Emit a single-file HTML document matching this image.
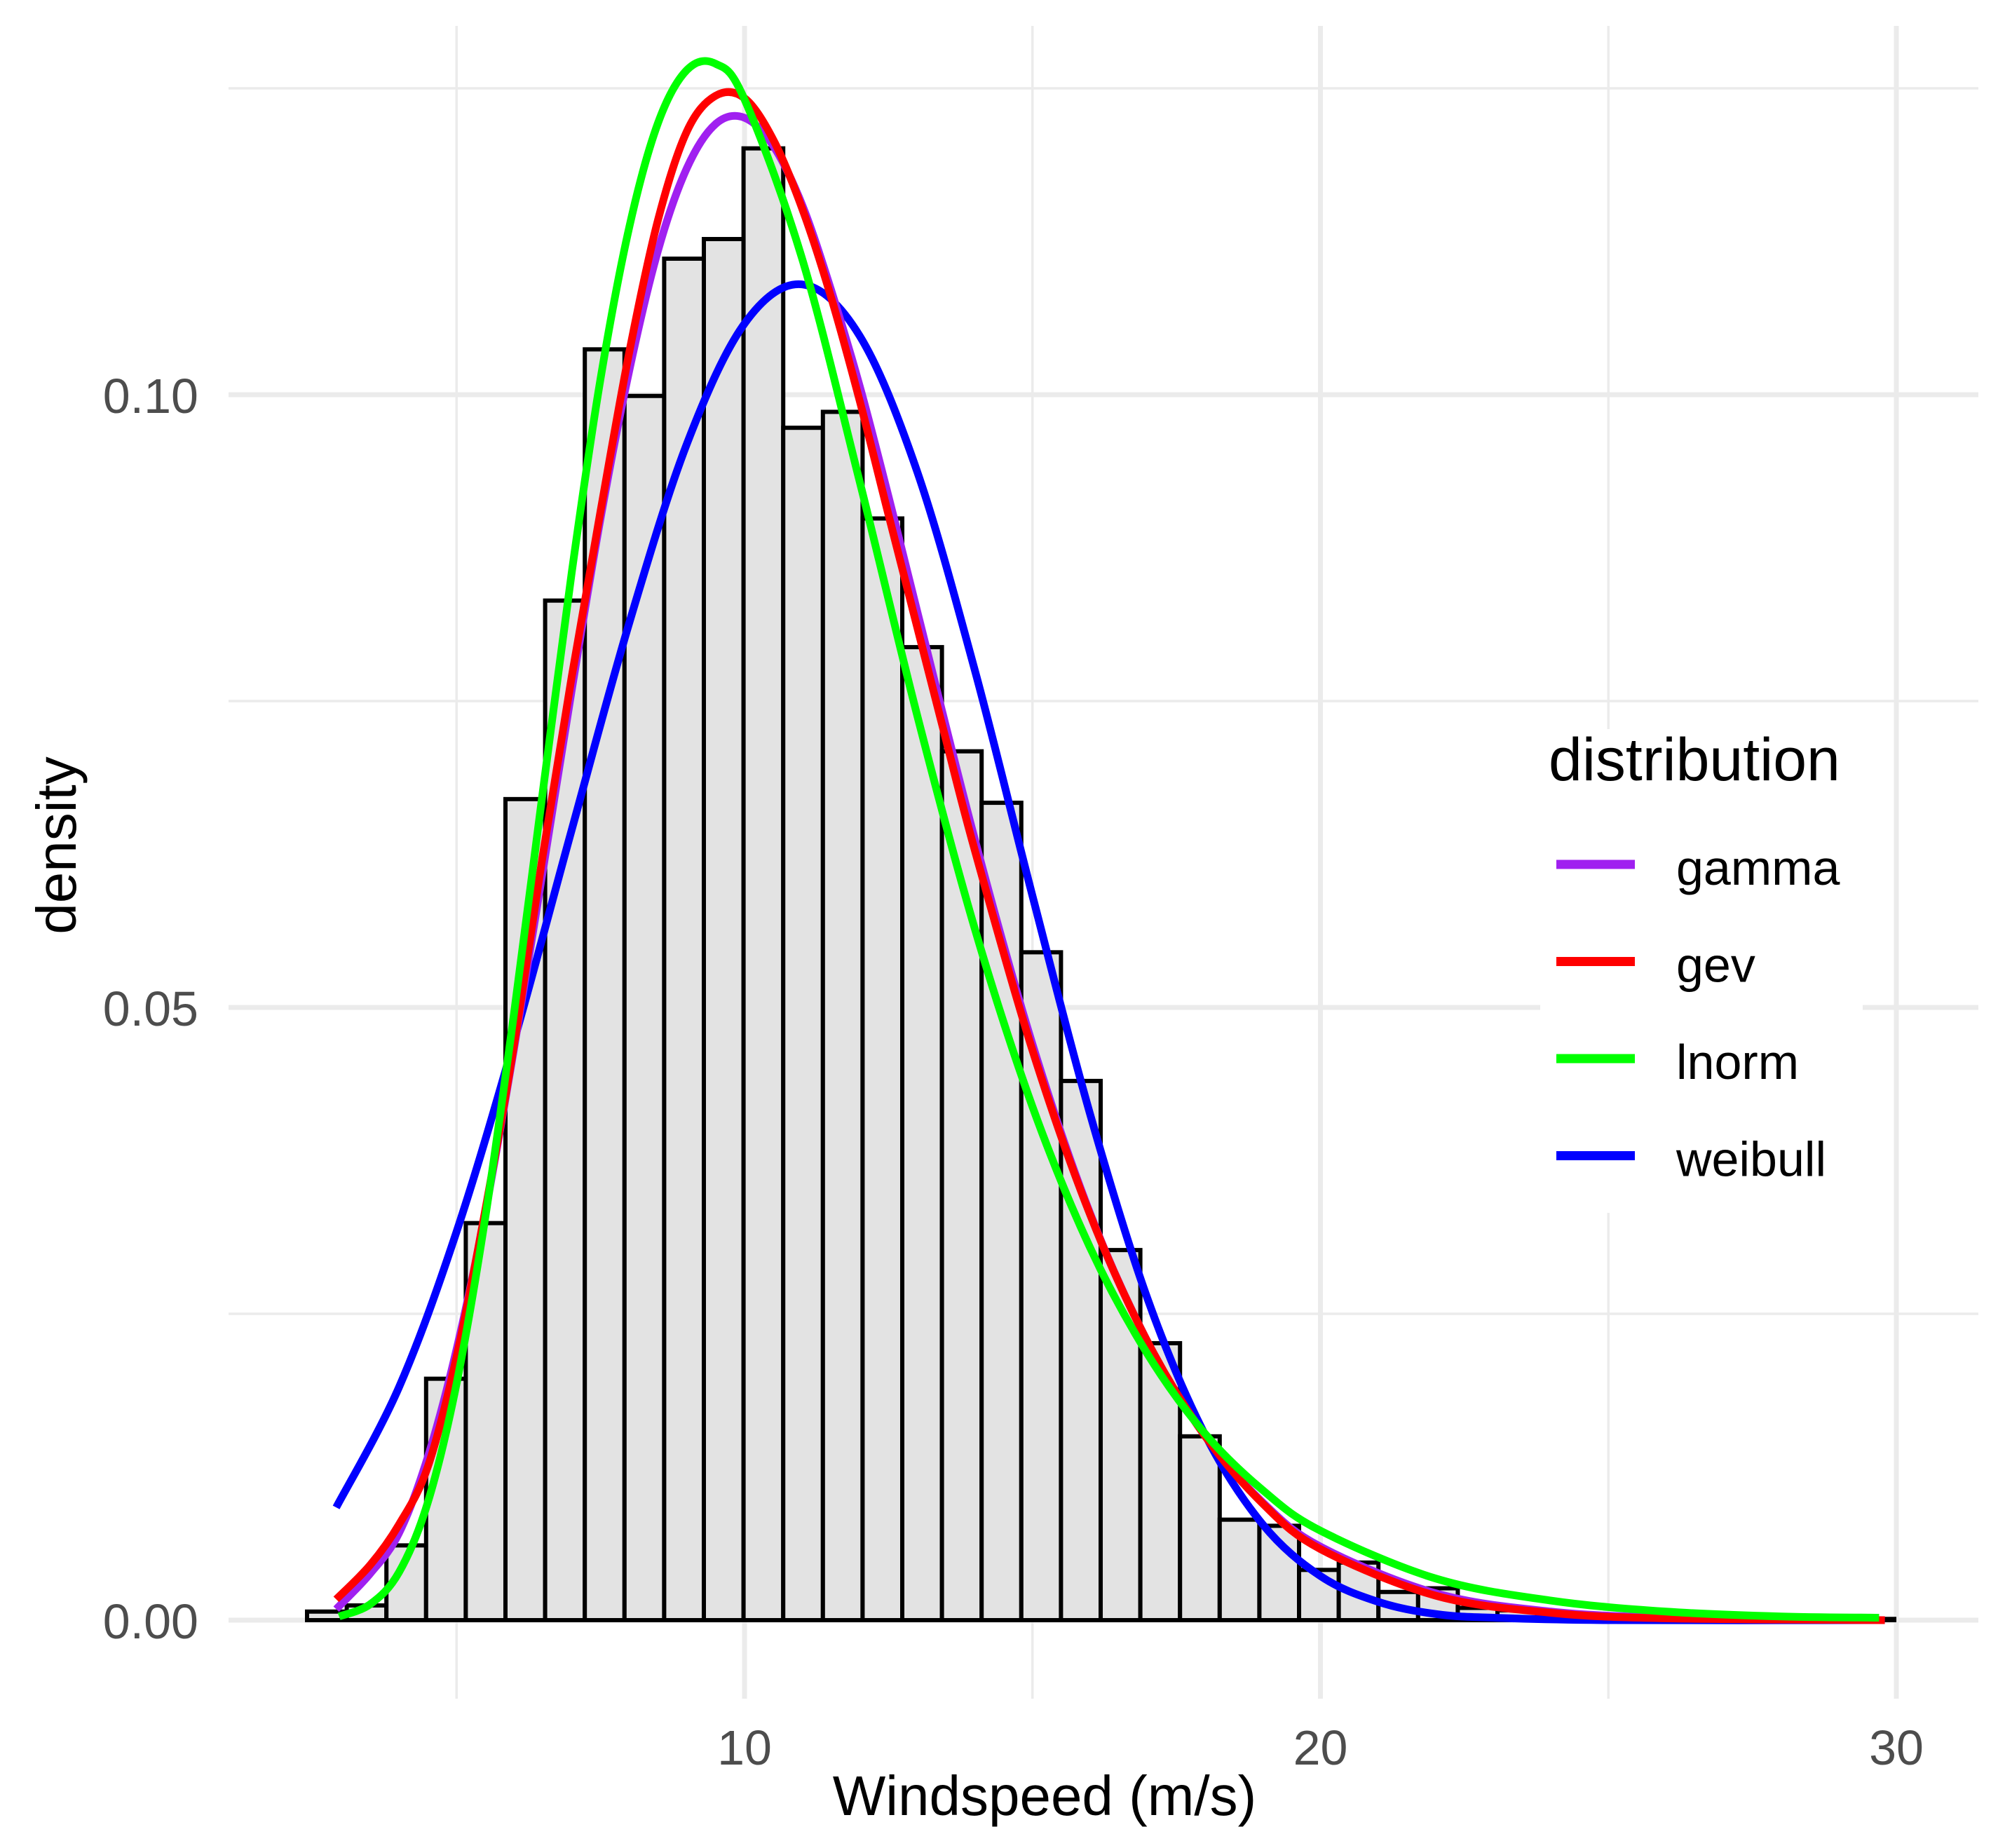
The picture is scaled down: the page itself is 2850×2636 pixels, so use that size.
<!DOCTYPE html>
<html><head><meta charset="utf-8"><style>
html,body{margin:0;padding:0;background:#fff;}
svg{display:block;font-family:"Liberation Sans",Arial,sans-serif;}
</style></head><body>
<svg id="chart" width="2850" height="2636" viewBox="0 0 2850 2636" xmlns="http://www.w3.org/2000/svg">
<rect x="0" y="0" width="2850" height="2636" fill="#fff"/>
<g id="grid"></g>
<g id="bars"></g>
<g id="curves"></g>
<g id="yticks"></g>
<g id="xticks"></g>
<text x="1490" y="2589" font-size="80" text-anchor="middle" fill="#000">Windspeed (m/s)</text>
<text transform="translate(108,1206) rotate(-90)" font-size="80" text-anchor="middle" fill="#000">density</text>
<g id="legend">
<rect x="2197" y="1040" width="460" height="690" fill="#fff"/>
<text x="2209" y="1113" font-size="86" fill="#000">distribution</text>
</g>
</svg>
<script>
const binStart = 2.404;
const binWidth = 0.689;
const barDensity = [0.0007,0.0012,0.0061,0.0197,0.0324,0.067,0.0832,0.1037,0.0999,0.1111,0.1127,0.1201,0.0973,0.0986,0.0899,0.0794,0.0709,0.0667,0.0545,0.044,0.0302,0.0226,0.015,0.0082,0.0077,0.0041,0.0047,0.0023,0.0026,0.001,0.0008,0.0005,0.0003,0.0002,0.0001,0,0.0001,0,0,0.0001];
const seriesNames = ["gamma","gev","lnorm","weibull"];
const seriesColors = ["#a020f0","#ff0000","#00ff00","#0000ff"];
const gammaX = [2.91,3.5,4,4.5,5,5.5,6,6.5,7,7.5,8,8.5,9,9.5,10,10.5,11,11.5,12,12.5,13,14,15,16,17,18,19,20,22,24,26,28,29.8];
const gammaY = [0.0009,0.0038,0.0071,0.0133,0.0221,0.0333,0.0467,0.0612,0.0759,0.0899,0.102,0.1118,0.1185,0.1221,0.1226,0.1203,0.1155,0.1086,0.1007,0.0917,0.0823,0.0637,0.047,0.0332,0.0227,0.015,0.0096,0.006,0.0022,0.0007,0.0002,0.0001,0.0];
const gevX = [2.91,3.5,4,4.5,5,5.5,6,6.5,7,7.5,8,8.5,9,9.5,10,10.5,11,11.5,12,12.5,13,13.5,14,15,16,17,18,19,20,22,24,26,29.8];
const gevY = [0.0017,0.0045,0.0078,0.0125,0.0215,0.0335,0.047,0.0625,0.077,0.0905,0.1035,0.1143,0.1215,0.1244,0.1242,0.1208,0.1152,0.108,0.0995,0.0902,0.081,0.0718,0.0628,0.0465,0.0331,0.0227,0.015,0.0095,0.0058,0.002,0.0006,0.00015,0.0];
const lnormX = [2.96,3.5,4,4.5,5,5.5,6,6.5,7,7.5,8,8.5,9,9.5,10,11,12,13,14,15,16,17,18,19,20,22,24,26,28,29.7];
const lnormY = [0.0003,0.0013,0.0039,0.0096,0.0193,0.0329,0.0496,0.0677,0.0855,0.1013,0.1137,0.1222,0.1265,0.127,0.1241,0.1111,0.0929,0.0738,0.0564,0.0419,0.0304,0.0217,0.0152,0.0106,0.0073,0.0034,0.0016,0.0007,0.0003,0.0002];
const weibullX = [2.91,4,5,6,7,8,9,10,11,12,13,14,15,16,17,18,19,20,21,22,23,25,29.8];
const weibullY = [0.0092,0.019,0.0317,0.0473,0.0645,0.0814,0.096,0.1058,0.109,0.1048,0.0937,0.0775,0.0591,0.0413,0.0262,0.0151,0.0078,0.0036,0.0015,0.0005,0.0002,0.0,0.0];
const xMajor = [10,20,30];
const xMinor = [5,15,25];
const yMajor = [0,0.05,0.10];
const yMinor = [0.025,0.075,0.125];
const yTickLabels = ["0.00","0.05","0.10"];
const xTickLabels = ["10","20","30"];

const NS = "http://www.w3.org/2000/svg";
const PL = 326, PR = 2822, PT = 37, PB = 2423;
function sx(v){ return 1062 + (v - 10) * 82.15; }
function sy(v){ return 2311 - v * 17480; }
function mk(tag, attrs, parent){ const e = document.createElementNS(NS, tag); for (const k in attrs) e.setAttribute(k, attrs[k]); parent.appendChild(e); return e; }

const grid = document.getElementById('grid');
yMinor.forEach(v => { const l = mk('line',{x1:PL,x2:PR,y1:sy(v),y2:sy(v),stroke:'#ebebeb','stroke-width':3.5},grid);

 });
xMinor.forEach(v => { const l = mk('line',{x1:sx(v),x2:sx(v),y1:PT,y2:PB,stroke:'#ebebeb','stroke-width':3.5},grid);

 });
yMajor.forEach(v => { const l = mk('line',{x1:PL,x2:PR,y1:sy(v),y2:sy(v),stroke:'#ebebeb','stroke-width':7},grid);

 });
xMajor.forEach(v => { const l = mk('line',{x1:sx(v),x2:sx(v),y1:PT,y2:PB,stroke:'#ebebeb','stroke-width':7},grid);

 });

const bars = document.getElementById('bars');
barDensity.forEach((d,i) => {
  const x0 = sx(binStart + i*binWidth), x1 = sx(binStart + (i+1)*binWidth);
  const r = mk('rect',{x:x0,y:sy(d),width:x1-x0,height:sy(0)-sy(d),fill:'#e3e3e3',stroke:'#000','stroke-width':6},bars);
  
  
});

const curves = document.getElementById('curves');
const seriesData = [[gammaX,gammaY],[gevX,gevY],[lnormX,lnormY],[weibullX,weibullY]];
const drawOrder = [3,0,1,2];
drawOrder.forEach(s => {
  const xs = seriesData[s][0], ys = seriesData[s][1];
  const pts = xs.map((x,i)=>[sx(x),sy(ys[i])]);
  let d = 'M'+pts[0][0]+','+pts[0][1];
  for (let i=0;i<pts.length-1;i++){
    const p0 = pts[i-1]||pts[i], p1 = pts[i], p2 = pts[i+1], p3 = pts[i+2]||p2;
    const c1x = p1[0]+(p2[0]-p0[0])/6, c1y = p1[1]+(p2[1]-p0[1])/6;
    const c2x = p2[0]-(p3[0]-p1[0])/6, c2y = p2[1]-(p3[1]-p1[1])/6;
    d += ' C'+c1x+','+c1y+' '+c2x+','+c2y+' '+p2[0]+','+p2[1];
  }
  const p = mk('path',{d:d,fill:'none',stroke:seriesColors[s],'stroke-width':11,'stroke-linejoin':'round'},curves);
  
  
});

const yt = document.getElementById('yticks');
yMajor.forEach((v,i) => { const t = mk('text',{x:283,y:sy(v)+26,'font-size':70,'text-anchor':'end',fill:'#4d4d4d'},yt); t.textContent = yTickLabels[i];

 });
const xt = document.getElementById('xticks');
xMajor.forEach((v,i) => { const t = mk('text',{x:sx(v),y:2517,'font-size':70,'text-anchor':'middle',fill:'#4d4d4d'},xt); t.textContent = xTickLabels[i];

 });

const lg = document.getElementById('legend');
seriesNames.forEach((n,i) => {
  const cy = 1233 + i*138.5;
  const l = mk('line',{x1:2220,x2:2332,y1:cy,y2:cy,stroke:seriesColors[i],'stroke-width':13},lg);
  
  
  const t = mk('text',{x:2391,y:cy+29,'font-size':70,fill:'#000'},lg); t.textContent = n;
  
  
});
</script>
</body></html>
